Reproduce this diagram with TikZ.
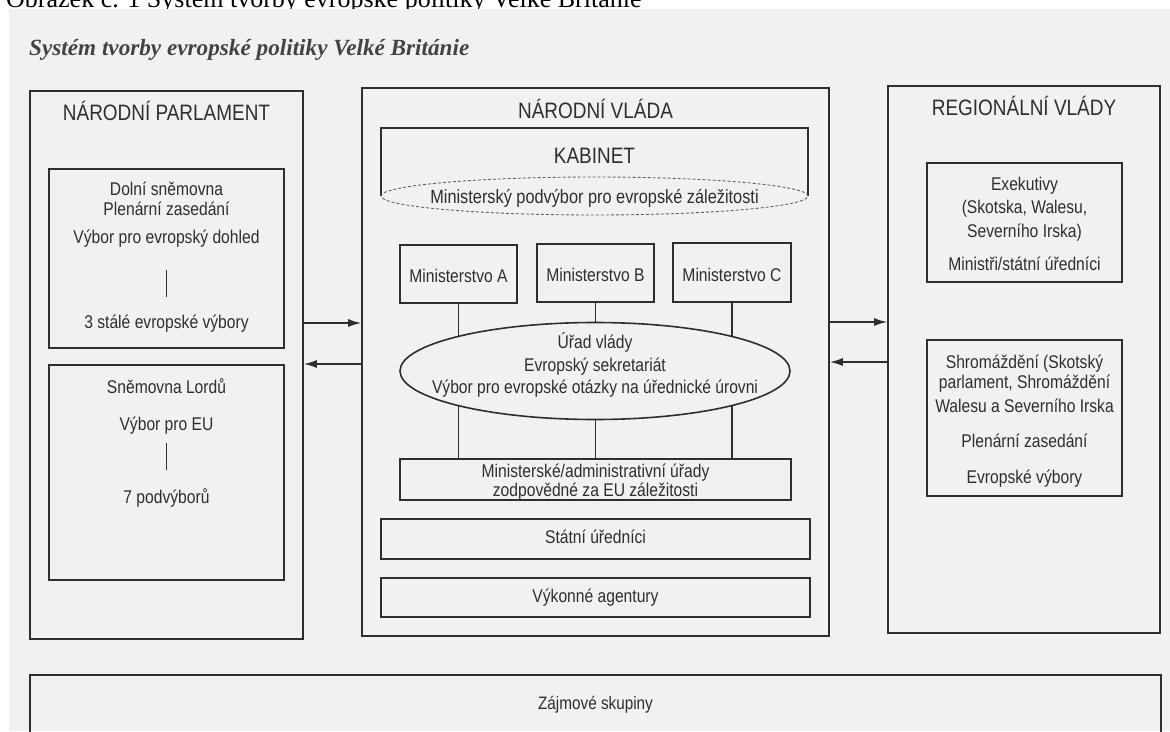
\documentclass[tikz,border=0pt]{standalone}
\usepackage{fontspec}
\setmainfont{Liberation Serif}
\newfontfamily\hv[FakeStretch=0.85]{Liberation Sans}
\usetikzlibrary{arrows.meta,shapes.geometric}
\definecolor{bg}{HTML}{F1F1F1}
\definecolor{ink}{HTML}{2E2E2E}
\begin{document}
\begin{tikzpicture}[x=1pt,y=-1pt,
  box/.style={draw=ink, line width=1.6pt, rectangle, inner sep=0pt},
  hd/.style={font=\hv\fontsize{22.3}{26}\selectfont, text=ink, inner sep=0pt, anchor=base},
  tx/.style={font=\hv\fontsize{18.4}{22}\selectfont, text=ink, inner sep=0pt, anchor=base},
  link/.style={draw=ink, line width=1.6pt},
  arr/.style={draw=ink, line width=1.6pt, -{Latex[length=13pt,width=8pt]}},
]
\clip (0,0) rectangle (1170,731);
\fill[white] (0,0) rectangle (1170,731);
\node[anchor=base west, inner sep=0pt, font=\fontsize{26}{30}\selectfont, text=black] (cap) at (6,7) {Obrázek č. 1 Systém tvorby evropské politiky Velké Británie};
\fill[bg] (9,9) rectangle (1170,731);

% title
\node[anchor=base west, inner sep=0pt, font=\bfseries\itshape\fontsize{23.2}{28}\selectfont, text=ink!90] (title) at (29,55) {Systém tvorby evropské politiky Velké Británie};

% ---------- left: parliament
\node[box, minimum width=273, minimum height=548] (parl) at (166.5,365) {};
\node[hd] (parlh) at (166.5,120) {NÁRODNÍ PARLAMENT};
\node[box, minimum width=235, minimum height=179] (dolni) at (166.5,258.5) {};
\node[tx] (d1) at (166.5,195) {Dolní sněmovna};
\node[tx] (d2) at (166.5,215) {Plenární zasedání};
\node[tx] (d3) at (166.5,243) {Výbor pro evropský dohled};
\node[tx] (d4) at (166.5,328) {3 stálé evropské výbory};
\draw[link] (166.5,270) -- (166.5,297);
\node[box, minimum width=235, minimum height=215] (lords) at (166.5,472.5) {};
\node[tx] (l1) at (166.5,393) {Sněmovna Lordů};
\node[tx] (l2) at (166.5,430) {Výbor pro EU};
\node[tx] (l3) at (166.5,503) {7 podvýborů};
\draw[link] (166.5,443) -- (166.5,470);

% ---------- center: government
\node[box, minimum width=467, minimum height=548] (gov) at (595.5,362) {};
\node[hd] (govh) at (595.5,118) {NÁRODNÍ VLÁDA};
\draw[link] (381,196) -- (381,128) -- (808,128) -- (808,196);
\node[hd] (kab) at (594.5,163) {KABINET};
\node[ellipse, draw=ink!75, line width=0.9pt, densely dashed, minimum width=427, minimum height=38, inner sep=0pt] (kabell) at (594.5,196) {};
\node[tx, font=\hv\fontsize{19.2}{22}\selectfont] (kabt) at (594.5,203) {Ministerský podvýbor pro evropské záležitosti};

\node[box, minimum width=117, minimum height=58] (minA) at (458.5,274) {};
\node[box, minimum width=117, minimum height=58] (minB) at (595.5,273) {};
\node[box, minimum width=118, minimum height=59] (minC) at (732,272.5) {};
\node[tx] (mA) at (458.5,282) {Ministerstvo A};
\node[tx] (mB) at (595.5,281) {Ministerstvo B};
\node[tx] (mC) at (732,281) {Ministerstvo C};

\node[box, minimum width=391, minimum height=41] (adm) at (595.5,479.5) {};
\draw[link] (minA.south) -- (minA.south |- adm.north);
\draw[link] (minB.south) -- (minB.south |- adm.north);
\draw[link] (minC.south) -- (minC.south |- adm.north);
\node[ellipse, draw=ink, fill=bg, line width=1.6pt, minimum width=390, minimum height=97, inner sep=0pt] (urad) at (595,371) {};
\node[tx] (u1) at (595,348) {Úřad vlády};
\node[tx] (u2) at (595,371) {Evropský sekretariát};
\node[tx] (u3) at (595,393) {Výbor pro evropské otázky na úřednické úrovni};
\node[tx] (a1) at (595.5,477) {Ministerské/administrativní úřady};
\node[tx] (a2) at (595.5,496) {zodpovědné za EU záležitosti};

\node[box, minimum width=429, minimum height=40] (statni) at (595.5,539) {};
\node[tx] (st) at (595.5,543) {Státní úředníci};
\node[box, minimum width=429, minimum height=39] (vykon) at (595.5,597.5) {};
\node[tx] (vk) at (595.5,602) {Výkonné agentury};

% ---------- right: regional governments
\node[box, minimum width=272, minimum height=547] (reg) at (1024,359.5) {};
\node[hd] (regh) at (1024,115) {REGIONÁLNÍ VLÁDY};
\node[box, minimum width=195, minimum height=119] (exek) at (1024.5,222.5) {};
\node[tx] (e1) at (1024.5,190) {Exekutivy};
\node[tx] (e2) at (1024.5,213) {(Skotska, Walesu,};
\node[tx] (e3) at (1024.5,237) {Severního Irska)};
\node[tx] (e4) at (1024.5,270) {Ministři/státní úředníci};
\node[box, minimum width=195, minimum height=156] (shrom) at (1024.5,418) {};
\node[tx] (s1) at (1024.5,368) {Shromáždění (Skotský};
\node[tx] (s2) at (1024.5,388) {parlament, Shromáždění};
\node[tx] (s3) at (1024.5,412) {Walesu a Severního Irska};
\node[tx] (s4) at (1024.5,447) {Plenární zasedání};
\node[tx] (s5) at (1024.5,483) {Evropské výbory};

% ---------- arrows
\coordinate (r1) at (0,323);
\coordinate (r2) at (0,364);
\coordinate (r3) at (0,322);
\coordinate (r4) at (0,362);
\draw[arr] (parl.east |- r1) -- (gov.west |- r1);
\draw[arr] (gov.west |- r2) -- (parl.east |- r2);
\draw[arr] (gov.east |- r3) -- (reg.west |- r3);
\draw[arr] (reg.west |- r4) -- (gov.east |- r4);

% ---------- interest groups
\node[box, minimum width=1131, minimum height=85] (zajm) at (595.5,717.5) {};
\node[tx, font=\hv\fontsize{18}{20}\selectfont] (zt) at (595.5,709) {Zájmové skupiny};
\end{tikzpicture}
\end{document}
